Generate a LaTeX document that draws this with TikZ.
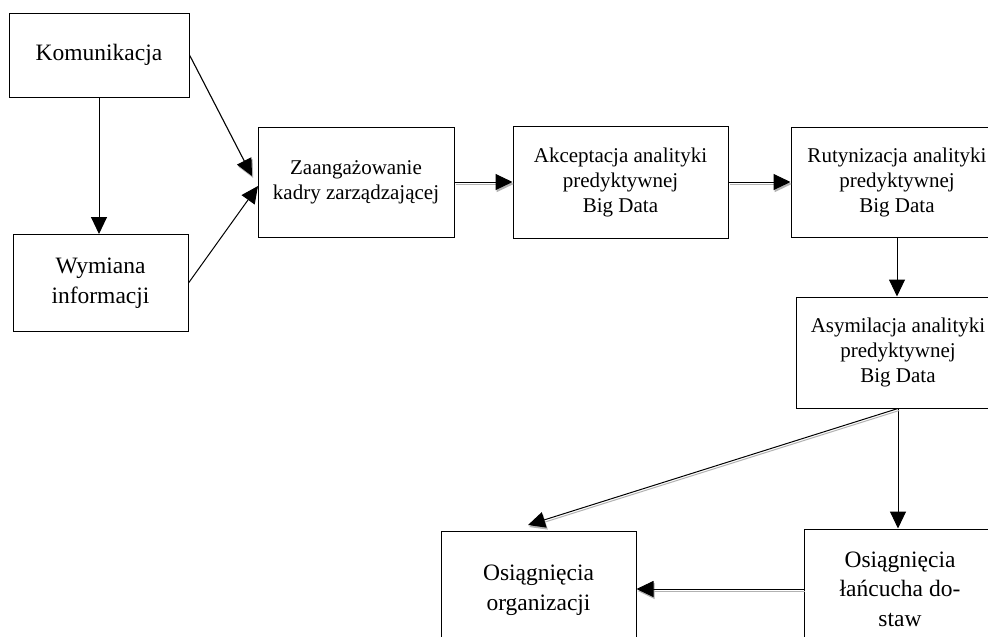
\documentclass[tikz,border=0pt]{standalone}
\usepackage{fontspec}
\setmainfont{Liberation Serif}
\usetikzlibrary{arrows.meta}

\begin{document}
\begin{tikzpicture}[x=1pt, y=-1pt, line width=1pt,
		box/.style={draw, align=center, inner sep=0pt, font=\fontsize{23.5}{29.5}\selectfont},
		smallbox/.style={box, font=\fontsize{21}{25}\selectfont},
		arr/.style={-{Triangle[length=17pt,width=16pt]}},
		shadowed/.style={arr, preaction={draw=black!30, -{Triangle[length=17pt,width=16pt]}, transform canvas={xshift=1.2pt, yshift=-2pt}}}]
				\fill[white] (0,0) rectangle (988,637);
				\useasboundingbox (0,0) rectangle (988,637);
				\clip (0,0) rectangle (988,637);

				\node[box, minimum width=180pt, minimum height=84pt] (kom) at (99,55) {Komunikacja};
				\node[box, minimum width=175pt, minimum height=97pt] (wym) at (100.5,283) {Wymiana\\informacji};

				\node[smallbox, minimum width=196pt, minimum height=110pt] (zaang) at (356,182) {Zaangażowanie\\kadry zarządzającej};
				\node[smallbox, minimum width=215pt, minimum height=112pt] (akc) at (620.5,182) {Akceptacja analityki\\predyktywnej\\Big Data};
				\node[smallbox, minimum width=212pt, minimum height=110pt] (rut) at (897,182) {Rutynizacja analityki\\predyktywnej\\Big Data};
				\node[smallbox, minimum width=204pt, minimum height=111pt] (asym) at (898,352.5) {Asymilacja analityki\\predyktywnej\\Big Data};

				\node[box, minimum width=195pt, minimum height=118pt] (org) at (538.5,590) {Osiągnięcia\\organizacji};
				\node[box, minimum width=192pt, minimum height=120pt] (lanc) at (900,589) {Osiągnięcia\\łańcucha do-\\staw};

				\coordinate (kin) at (252,176);
				\coordinate (win) at (258,186);
				\coordinate (orgin) at (528,525);

				\draw[arr] (kom.south) -- (kom.south |- wym.north);
				\draw[shadowed] (kom.east) -- (kin);
				\draw[arr] (wym.east) -- (win);

				\draw[shadowed] (zaang.east) -- (akc.west);
				\draw[shadowed] (akc.east) -- (rut.west);
				\draw[arr] (rut.south) -- (rut.south |- asym.north);

				\draw[arr] (asym.south) -- (asym.south |- lanc.north);
				\draw[shadowed] (asym.south) -- (orgin);
				\draw[shadowed] (lanc.west) -- (lanc.west -| org.east);
\end{tikzpicture}
\end{document}
